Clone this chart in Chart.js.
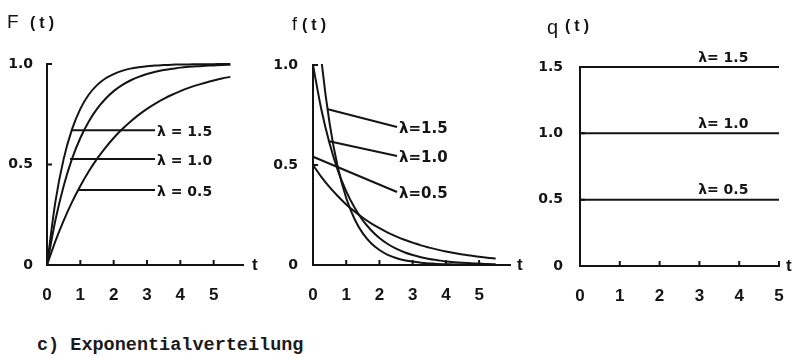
<!DOCTYPE html>
<html>
<head>
<meta charset="utf-8">
<script src="https://cdn.jsdelivr.net/npm/chart.js@4.4.1/dist/chart.umd.min.js"></script>
<style>
  body { margin: 0; background: #fff; }
  #wrap { position: relative; width: 811px; height: 358px; overflow: hidden; background: #fff; }
  canvas { position: absolute; top: 0; }
  #caption { position: absolute; left: 37px; top: 336px; font: bold 18.5px "Liberation Mono", monospace; color: #1a1a1a; white-space: pre; line-height: 20px; }
</style>
</head>
<body>
<div id="wrap">
  <canvas id="cF" width="268" height="320" style="left:0"></canvas>
  <canvas id="cf" width="262" height="320" style="left:268px"></canvas>
  <canvas id="cq" width="281" height="320" style="left:530px"></canvas>
  <div id="caption">c) Exponentialverteilung</div>
</div>
<script>
// values, every 0.25 in t
var tVals = [0, 0.25, 0.5, 0.75, 1, 1.25, 1.5, 1.75, 2, 2.25, 2.5, 2.75, 3, 3.25, 3.5, 3.75, 4, 4.25, 4.5, 4.75, 5, 5.25, 5.5];

// F(t)
var F15 = [0, 0.313, 0.528, 0.675, 0.777, 0.847, 0.895, 0.928, 0.950, 0.966, 0.977, 0.984, 0.989, 0.992, 0.995, 0.996, 0.998, 0.998, 0.999, 0.999, 0.999, 1.0, 1.0];
var F10 = [0, 0.221, 0.393, 0.528, 0.632, 0.713, 0.777, 0.826, 0.865, 0.895, 0.918, 0.936, 0.950, 0.961, 0.970, 0.976, 0.982, 0.986, 0.989, 0.991, 0.993, 0.995, 0.996];
var F05 = [0, 0.118, 0.221, 0.313, 0.393, 0.465, 0.528, 0.583, 0.632, 0.675, 0.713, 0.747, 0.777, 0.803, 0.826, 0.847, 0.865, 0.881, 0.895, 0.907, 0.918, 0.928, 0.936];

// f(t)
var f15 = [1.5, 1.031, 0.708, 0.487, 0.335, 0.230, 0.158, 0.109, 0.075, 0.051, 0.035, 0.024, 0.017, 0.011, 0.008, 0.005, 0.004, 0.003, 0.002, 0.001, 0.001, 0.001, 0];
var f10 = [1.0, 0.779, 0.607, 0.472, 0.368, 0.287, 0.223, 0.174, 0.135, 0.105, 0.082, 0.064, 0.050, 0.039, 0.030, 0.024, 0.018, 0.014, 0.011, 0.009, 0.007, 0.005, 0.004];
var f05 = [0.5, 0.441, 0.389, 0.344, 0.303, 0.268, 0.236, 0.208, 0.184, 0.162, 0.143, 0.126, 0.112, 0.098, 0.087, 0.077, 0.068, 0.060, 0.053, 0.047, 0.041, 0.036, 0.032];

// q(t)
var tq = [0, 5];
var q15 = [1.5, 1.5];
var q10 = [1.0, 1.0];
var q05 = [0.5, 0.5];

var xTicks = [0, 1, 2, 3, 4, 5];
var yTicksF = [0, 0.5, 1.0];
var yTicksQ = [0, 0.5, 1.0, 1.5];

var INK = '#141414';
var SANS = '"Liberation Sans", Arial, sans-serif';
var WIDE = '"DejaVu Sans", sans-serif';

function pts(xs, ys) {
  return ys.map(function (y, i) { return { x: xs[i], y: y }; });
}

// inward ticks, lambda labels, axis letter and panel title
function makeDecor(o) {
  return {
    id: 'decor',
    afterDraw: function (chart) {
      var ctx = chart.ctx, xs = chart.scales.x, ys = chart.scales.y, a = chart.chartArea;
      ctx.save();
      ctx.strokeStyle = INK;
      ctx.fillStyle = INK;
      ctx.lineWidth = 2;

      ctx.beginPath();
      xs.ticks.forEach(function (tk) {
        if (tk.value === 0) return;
        var px = xs.getPixelForValue(tk.value);
        ctx.moveTo(px, a.bottom);
        ctx.lineTo(px, a.bottom - 5);
      });
      ys.ticks.forEach(function (tk) {
        if (tk.value === 0) return;
        var py = ys.getPixelForValue(tk.value);
        ctx.moveTo(a.left, py);
        ctx.lineTo(a.left + 5, py);
      });
      ctx.stroke();

      ctx.font = o.noteFont;
      o.notes.forEach(function (n) {
        if (n.from) {
          var x1 = xs.getPixelForValue(n.to[0]), y1 = ys.getPixelForValue(n.to[1]);
          ctx.beginPath();
          ctx.moveTo(xs.getPixelForValue(n.from[0]), ys.getPixelForValue(n.from[1]));
          ctx.lineTo(x1, y1);
          ctx.stroke();
          ctx.textAlign = 'left';
          ctx.textBaseline = 'middle';
          ctx.fillText(n.text, x1 + 2, y1 + 2);
        } else {
          ctx.textAlign = 'center';
          ctx.textBaseline = 'bottom';
          ctx.fillText(n.text, xs.getPixelForValue(n.at[0]), ys.getPixelForValue(n.at[1]) - 2);
        }
      });

      ctx.textAlign = 'left';
      ctx.textBaseline = 'middle';
      ctx.font = 'bold 17px ' + SANS;
      ctx.fillText('t', a.right + o.tGap, a.bottom);

      ctx.textBaseline = 'alphabetic';
      ctx.font = o.title.font;
      ctx.fillText(o.title.name, o.title.x, o.title.y);
      ctx.font = 'bold 16px ' + SANS;
      ctx.letterSpacing = '4px';
      ctx.fillText('(t)', o.title.x2, o.title.y2);
      ctx.restore();
    }
  };
}

function makeChart(id, sets, o) {
  return new Chart(document.getElementById(id), {
    type: 'line',
    data: {
      datasets: sets.map(function (s) {
        return { data: s, borderColor: INK, borderWidth: 2, pointRadius: 0, cubicInterpolationMode: 'monotone', fill: false, clip: o.clip };
      })
    },
    options: {
      responsive: false,
      animation: false,
      devicePixelRatio: 1,
      layout: { padding: { left: 0, right: o.padRight, top: o.top, bottom: o.bottom } },
      plugins: { legend: { display: false }, tooltip: { enabled: false } },
      scales: {
        x: {
          type: 'linear', min: 0, max: o.xMax,
          grid: { drawOnChartArea: false, drawTicks: false },
          border: { color: INK, width: 2 },
          afterBuildTicks: function (s) { s.ticks = xTicks.map(function (v) { return { value: v }; }); },
          afterFit: function (s) { s.height = 45; },
          ticks: {
            color: INK, padding: 20, maxRotation: 0, autoSkip: false,
            font: { family: SANS, weight: 'bold', size: 17 },
            callback: function (v) { return String(v); }
          }
        },
        y: {
          type: 'linear', min: 0, max: o.yMax,
          grid: { drawOnChartArea: false, drawTicks: false },
          border: { color: INK, width: 2 },
          afterBuildTicks: function (s) { s.ticks = o.yTicks.map(function (v) { return { value: v }; }); },
          afterFit: function (s) { s.width = o.left; },
          ticks: {
            color: INK, padding: o.yPad, autoSkip: false,
            font: { family: WIDE, weight: 'bold', size: 14 },
            callback: function (v) { return v === 0 ? '0' : v.toFixed(1); }
          }
        }
      }
    },
    plugins: [makeDecor(o)]
  });
}

makeChart('cF', [pts(tVals, F15), pts(tVals, F10), pts(tVals, F05)], {
  left: 47, padRight: 25, top: 64, bottom: 10, xMax: 5.88, yMax: 1, yTicks: yTicksF, yPad: 14, tGap: 9, clip: false,
  title: { name: 'F', font: '19px ' + SANS, x: 7, y: 28, x2: 30, y2: 28 },
  noteFont: 'bold 14px ' + WIDE,
  notes: [
    { text: 'λ = 1.5', from: [0.75, 0.67], to: [3.24, 0.67] },
    { text: 'λ = 1.0', from: [0.69, 0.527], to: [3.24, 0.527] },
    { text: 'λ = 0.5', from: [0.93, 0.373], to: [3.24, 0.373] }
  ]
});

makeChart('cf', [pts(tVals, f15), pts(tVals, f10), pts(tVals, f05)], {
  left: 45, padRight: 20, top: 65, bottom: 10, xMax: 5.93, yMax: 1, yTicks: yTicksF, yPad: 15, tGap: 7, clip: 1,
  title: { name: 'f', font: '18px ' + SANS, x: 24, y: 30, x2: 34, y2: 30 },
  noteFont: 'bold 15px ' + WIDE,
  notes: [
    { text: 'λ=1.5', from: [0.42, 0.78], to: [2.53, 0.69] },
    { text: 'λ=1.0', from: [0.45, 0.62], to: [2.53, 0.545] },
    { text: 'λ=0.5', from: [0.02, 0.54], to: [2.53, 0.365] }
  ]
});

makeChart('cq', [pts(tq, q15), pts(tq, q10), pts(tq, q05)], {
  left: 50, padRight: 32, top: 67, bottom: 9, xMax: 5, yMax: 1.5, yTicks: yTicksQ, yPad: 17, tGap: 7, clip: false,
  title: { name: 'q', font: '20px ' + SANS, x: 17, y: 34, x2: 35, y2: 31 },
  noteFont: 'bold 14px ' + WIDE,
  notes: [
    { text: 'λ= 1.5', at: [3.6, 1.5] },
    { text: 'λ= 1.0', at: [3.6, 1.0] },
    { text: 'λ= 0.5', at: [3.6, 0.5] }
  ]
});
</script>
</body>
</html>
